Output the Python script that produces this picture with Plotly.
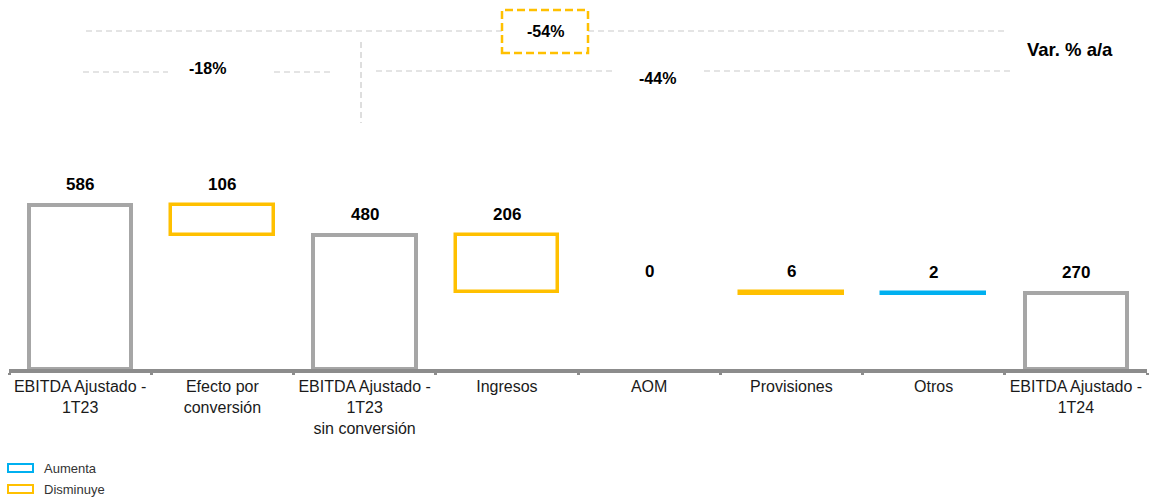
import plotly.graph_objects as go

# ---- data ---------------------------------------------------------------
categories = [
    "EBITDA Ajustado -<br>1T23",
    "Efecto por<br>conversión",
    "EBITDA Ajustado -<br>1T23<br>sin conversión",
    "Ingresos",
    "AOM",
    "Provisiones",
    "Otros",
    "EBITDA Ajustado -<br>1T24",
]
values = [586, -106, 480, -206, 0, -6, 2, 270]
measures = ["total", "relative", "total", "relative", "relative", "relative", "relative", "total"]
legend_labels = ["Aumenta", "Disminuye"]
variation_title = "Var. % a/a"

# ---- style --------------------------------------------------------------
GRAY = "#A6A6A6"
YELLOW = "#FFC000"
BLUE = "#00B0F0"
DASH_GRAY = "#C9C9C9"
AXIS_GRAY = "#8C8C8C"
FONT = "Liberation Sans, Arial, sans-serif"
CLEAR = "rgba(0,0,0,0)"

W, H = 1149, 501
PLOT_L, PLOT_R, PLOT_T, PLOT_B = 9, 1147, 0, 369
Y_MAX = 1318


def fx(px):
    return (px - PLOT_L) / (PLOT_R - PLOT_L)


def fy(py):
    return (PLOT_B - py) / (PLOT_B - PLOT_T)


# ---- waterfall geometry (floating bars) ----------------------------------
bases, heights = [], []
level = 0
for v, m in zip(values, measures):
    if m == "total":
        bases.append(0)
        heights.append(v)
        level = v
    else:
        bases.append(level)
        heights.append(v)
        level += v


def subset(keep):
    ys = [h if keep(i) else None for i, h in enumerate(heights)]
    bs = [b if keep(i) else None for i, b in enumerate(bases)]
    return ys, bs


groups = [
    (lambda i: measures[i] == "total", GRAY, 4),
    (lambda i: measures[i] == "relative" and values[i] < 0, YELLOW, 3.5),
    (lambda i: measures[i] == "relative" and values[i] > 0, BLUE, 3.5),
]

fig = go.Figure()
for keep, color, lw in groups:
    ys, bs = subset(keep)
    fig.add_trace(go.Bar(
        x=categories, y=ys, base=bs, width=0.72,
        marker=dict(color=CLEAR, line=dict(color=color, width=lw)),
        showlegend=False, hoverinfo="skip",
    ))

annotations = []
shapes = []

# value labels above each bar
for c, b, h, v in zip(categories, bases, heights, values):
    top = max(b, b + h)
    annotations.append(dict(
        x=c, y=top, xref="x", yref="y", text=f"<b>{abs(v)}</b>",
        showarrow=False, yanchor="bottom", yshift=9,
        font=dict(family=FONT, size=17, color="#000000"),
    ))

# year-over-year variations between the totals
totals = [v for v, m in zip(values, measures) if m == "total"]
pct_first = round((totals[1] / totals[0] - 1) * 100)
pct_second = round((totals[2] / totals[1] - 1) * 100)
pct_total = round((totals[2] / totals[0] - 1) * 100)


def hline(x0, x1, y, color=DASH_GRAY, width=1.2, dash="6px,4px"):
    shapes.append(dict(type="line", xref="paper", yref="paper",
                       x0=fx(x0), x1=fx(x1), y0=fy(y), y1=fy(y),
                       line=dict(color=color, width=width, dash=dash)))


def label(x, y, text, size=16, bold=True, color="#000000", anchor="center"):
    annotations.append(dict(
        x=fx(x), y=fy(y), xref="paper", yref="paper",
        text=f"<b>{text}</b>" if bold else text, showarrow=False,
        xanchor=anchor, yanchor="middle",
        font=dict(family=FONT, size=size, color=color),
    ))


# overall variation row
hline(86, 502, 31)
hline(588, 1008, 31)
shapes.append(dict(type="rect", xref="paper", yref="paper",
                   x0=fx(502), x1=fx(588), y0=fy(53), y1=fy(10),
                   line=dict(color=YELLOW, width=2.5, dash="8px,4px")))
label(545, 31, f"{pct_total}%")

# partial variation row
hline(83, 168, 72)
hline(274, 332, 72)
label(208, 68, f"{pct_first}%")
shapes.append(dict(type="line", xref="paper", yref="paper",
                   x0=fx(361), x1=fx(361), y0=fy(42), y1=fy(123),
                   line=dict(color=DASH_GRAY, width=1.2, dash="6px,4px")))
hline(376, 614, 71)
hline(704, 1010, 71)
label(657, 78, f"{pct_second}%")

label(1070, 50, variation_title, size=18.5)

# legend
for (y0, y1, color), name in zip([(464, 472, BLUE), (485, 493, YELLOW)], legend_labels):
    shapes.append(dict(type="rect", xref="paper", yref="paper",
                       x0=fx(8), x1=fx(33), y0=fy(y1), y1=fy(y0),
                       line=dict(color=color, width=2)))
    label(42, (y0 + y1) / 2, name, size=13, bold=False, color="#333333", anchor="left")

fig.update_layout(
    width=W, height=H,
    margin=dict(l=PLOT_L, r=W - PLOT_R, t=PLOT_T, b=H - PLOT_B, pad=0),
    paper_bgcolor="white", plot_bgcolor="white",
    barmode="overlay", bargap=0,
    showlegend=False,
    xaxis=dict(
        type="category", categoryorder="array", categoryarray=categories,
        showline=True, linecolor=AXIS_GRAY, linewidth=4,
        ticks="outside", tickson="boundaries", ticklen=2, tickwidth=3,
        tickcolor=AXIS_GRAY, showgrid=False, zeroline=False,
        tickangle=0, automargin=False,
        tickfont=dict(family=FONT, size=16, color="#1A1A1A"),
        fixedrange=True,
    ),
    yaxis=dict(range=[0, Y_MAX], visible=False, showgrid=False,
               zeroline=False, fixedrange=True, automargin=False),
    annotations=annotations,
    shapes=shapes,
)

fig.write_html("out.html")
